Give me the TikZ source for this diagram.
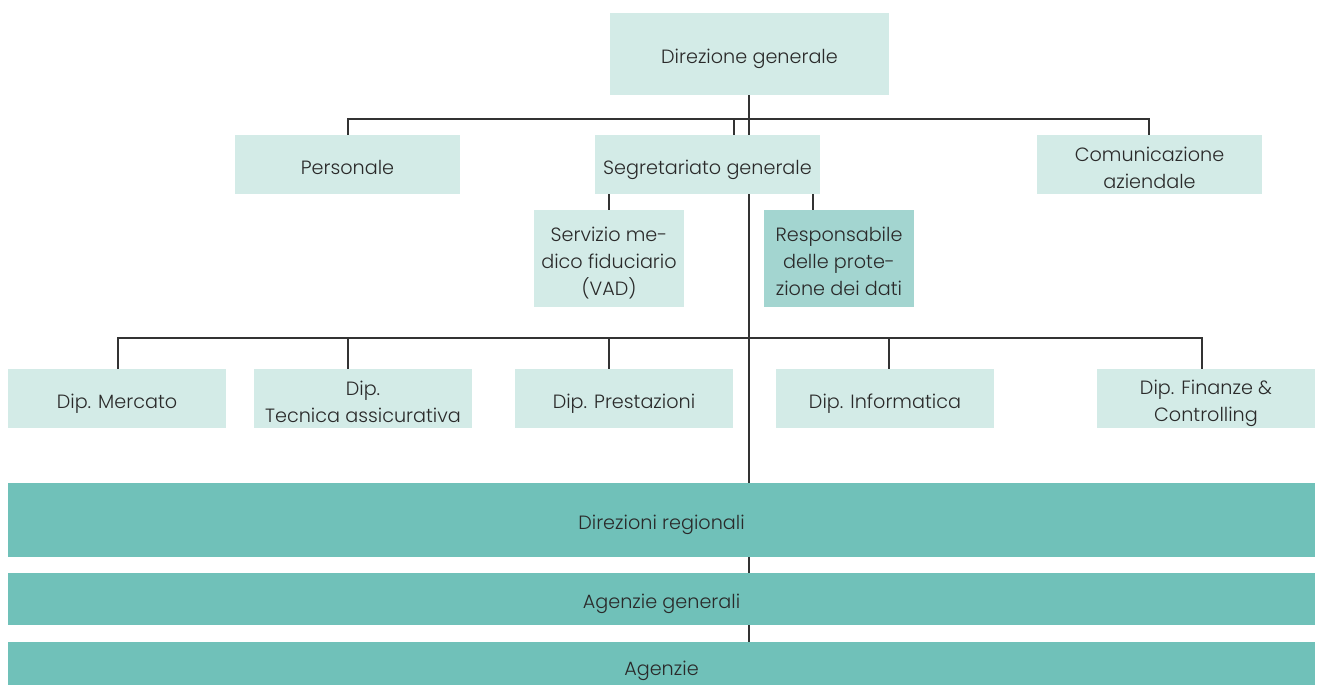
\documentclass[tikz,border=0pt]{standalone}
\usepackage{fontspec}
\setmainfont{Poppins Light}
\usetikzlibrary{backgrounds}
\definecolor{boxlight}{HTML}{D3EBE7}
\definecolor{boxmid}{HTML}{A3D5D0}
\definecolor{boxdark}{HTML}{70C1B9}
\definecolor{linec}{HTML}{333333}
\definecolor{textc}{HTML}{2A2A2A}
\newcommand\st{\rule[-3.25pt]{0pt}{22pt}}
\newcommand\sn{\rule[-3.25pt]{0pt}{16pt}}
\tikzset{
  box/.style={fill=boxlight, draw=none, align=center, inner sep=0pt, text=textc,
              font=\fontsize{14.4pt}{20.25pt}\selectfont},
  midbox/.style={box, fill=boxmid},
  bigbox/.style={box, fill=boxdark, minimum width=980.25pt},
  conn/.style={draw=linec, line width=0.9pt},
  wide/.style={minimum width=168.75pt, minimum height=44.25pt},
  small/.style={minimum width=112.5pt, minimum height=72.75pt},
  dip/.style={minimum width=163.5pt, minimum height=44.25pt}
}
\begin{document}
\begin{tikzpicture}[x=0.75pt, y=-0.75pt]
\useasboundingbox (0,0) rectangle (1322,685);
\node[box, minimum width=209.25pt, minimum height=61.5pt] (dg) at (749.5,54) {\st Direzione generale};
\node[box, wide] (pers) at (347.5,164.5) {\st Personale};
\node[box, wide] (seg) at (707.5,164.5) {\st Segretariato generale};
\node[box, wide] (com) at (1149.5,164.5) {\st Comunicazione\\\sn aziendale};
\node[box, small] (vad) at (609,258.5) {\st Servizio me-\\\sn dico fiduciario\\\sn (VAD)};
\node[midbox, small] (resp) at (839,258.5) {\st Responsabile\\\sn delle prote-\\\sn zione dei dati};
\node[box, dip] (merc) at (117,398.5) {\st Dip. Mercato};
\node[box, dip] (tec) at (363,398.5) {\st Dip.\\\sn Tecnica assicurativa};
\node[box, dip] (prest) at (624,398.5) {\st Dip. Prestazioni};
\node[box, dip] (inf) at (885,398.5) {\st Dip. Informatica};
\node[box, dip] (fin) at (1206,398.5) {\st Dip. Finanze \&\\\sn Controlling};
\node[bigbox, minimum height=55.5pt] (dr) at (661.5,520) {\st Direzioni regionali};
\node[bigbox, minimum height=39pt] (ag) at (661.5,599) {\st Agenzie generali};
\node[bigbox, minimum height=36pt] (a) at (661.5,666) {\st Agenzie};
\coordinate (t) at (749,119);
\coordinate (b1l) at (348,119);
\coordinate (b1r) at (1149,119);
\coordinate (b1s) at (734,119);
\coordinate (b2l) at (118,338);
\coordinate (b2r) at (1202,338);
\coordinate (d1) at (348,338);
\coordinate (d2) at (609,338);
\coordinate (d3) at (889,338);
\coordinate (sv) at (609,194);
\coordinate (sr) at (813,194);
\begin{scope}[on background layer]
\draw[conn] (dg.south -| t) -- (a.north -| t);
\draw[conn] (b1l |- pers.north) -- (b1l) -- (b1r) -- (b1r |- com.north);
\draw[conn] (b1s) -- (b1s |- seg.north);
\draw[conn] (b2l |- merc.north) -- (b2l) -- (b2r) -- (b2r |- fin.north);
\draw[conn] (d1) -- (d1 |- tec.north);
\draw[conn] (d2) -- (d2 |- prest.north);
\draw[conn] (d3) -- (d3 |- inf.north);
\draw[conn] (sv) -- (sv |- vad.north);
\draw[conn] (sr) -- (sr |- resp.north);
\end{scope}
\end{tikzpicture}
\end{document}
